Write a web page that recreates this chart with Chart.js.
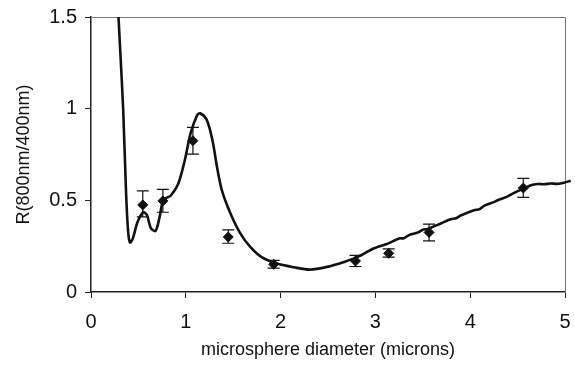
<!DOCTYPE html>
<html>
<head>
<meta charset="utf-8">
<script src="https://cdn.jsdelivr.net/npm/chart.js@4/dist/chart.umd.min.js"></script>
<style>
  html, body { margin: 0; padding: 0; background: #fff; }
  #wrap { width: 575px; height: 368px; }
</style>
</head>
<body>
<div id="wrap"><canvas id="myChart"></canvas></div>
<script>
// theory curve
let curveX = [0.29, 0.31, 0.34, 0.37, 0.39, 0.41, 0.44, 0.49, 0.55, 0.59, 0.63, 0.68, 0.72, 0.76, 0.80, 0.84,
  0.92, 0.99, 1.05, 1.12, 1.15, 1.22, 1.28, 1.33, 1.38, 1.47, 1.575, 1.68, 1.80, 1.96, 2.14, 2.31, 2.49,
  2.67, 2.81, 2.98, 3.13, 3.25, 3.30, 3.35, 3.45, 3.50, 3.55, 3.69, 3.80, 3.85, 3.90, 4.04, 4.10, 4.15,
  4.25, 4.30, 4.39, 4.48, 4.57, 4.64, 4.71, 4.78, 4.85, 4.92, 4.99, 5.06];
let curveY = [1.50, 1.30, 0.99, 0.54, 0.34, 0.27, 0.29, 0.38, 0.435, 0.42, 0.35, 0.333, 0.40, 0.50, 0.515, 0.525,
  0.59, 0.72, 0.865, 0.965, 0.975, 0.94, 0.83, 0.68, 0.556, 0.43, 0.32, 0.246, 0.19, 0.155, 0.135, 0.122, 0.137,
  0.164, 0.19, 0.237, 0.264, 0.292, 0.293, 0.309, 0.325, 0.340, 0.344, 0.374, 0.398, 0.402, 0.417, 0.446, 0.452, 0.471,
  0.490, 0.503, 0.520, 0.545, 0.565, 0.582, 0.589, 0.588, 0.592, 0.590, 0.596, 0.607];

// measured points with error bars
let pointX = [0.546, 0.758, 1.075, 1.448, 1.927, 2.79, 3.14, 3.566, 4.56];
let pointY = [0.475, 0.497, 0.825, 0.30, 0.151, 0.169, 0.211, 0.325, 0.567];
let errLow = [0.41, 0.435, 0.752, 0.266, 0.13, 0.139, 0.19, 0.279, 0.516];
let errHigh = [0.552, 0.56, 0.898, 0.339, 0.172, 0.20, 0.235, 0.37, 0.62];

let xTicks = [0, 1, 2, 3, 4, 5];
let yTicks = [0, 0.5, 1, 1.5];

let errorBars = {
  id: 'errorBars',
  afterDatasetsDraw(chart) {
    let ctx = chart.ctx;
    let xs = chart.scales.x, ys = chart.scales.y;
    ctx.save();
    ctx.strokeStyle = '#111';
    ctx.lineWidth = 1.2;
    for (let i = 0; i < pointX.length; i++) {
      let px = xs.getPixelForValue(pointX[i]);
      let lo = ys.getPixelForValue(errLow[i]);
      let hi = ys.getPixelForValue(errHigh[i]);
      ctx.beginPath();
      ctx.moveTo(px, lo); ctx.lineTo(px, hi);
      ctx.moveTo(px - 6, lo); ctx.lineTo(px + 6, lo);
      ctx.moveTo(px - 6, hi); ctx.lineTo(px + 6, hi);
      ctx.stroke();
    }
    ctx.restore();
  },
  beforeDatasetsDraw(chart) {
    // thin frame on top and right
    let a = chart.chartArea, ctx = chart.ctx;
    ctx.save();
    ctx.strokeStyle = '#777';
    ctx.lineWidth = 1;
    ctx.beginPath();
    ctx.moveTo(a.left, a.top + 0.5);
    ctx.lineTo(a.right + 0.5, a.top + 0.5);
    ctx.lineTo(a.right + 0.5, a.bottom);
    ctx.stroke();
    ctx.restore();
  }
};

let ctx = document.getElementById('myChart').getContext('2d');
let chart = new Chart(ctx, {
  type: 'scatter',
  data: {
    datasets: [{
      type: 'line',
      data: curveX.map((x, i) => ({ x: x, y: curveY[i] })),
      borderColor: '#111',
      borderWidth: 2.6,
      pointRadius: 0,
      tension: 0.3,
      fill: false,
      clip: false
    }, {
      data: pointX.map((x, i) => ({ x: x, y: pointY[i] })),
      backgroundColor: '#111',
      borderColor: '#111',
      pointStyle: 'rectRot',
      pointRadius: 5
    }]
  },
  options: {
    responsive: true,
    maintainAspectRatio: false,
    animation: false,
    layout: { padding: { top: 17, right: 10, left: 0, bottom: 0 } },
    plugins: { legend: { display: false }, tooltip: { enabled: false } },
    scales: {
      x: {
        type: 'linear',
        min: 0, max: 5,
        afterFit(scale) { scale.height = 76; scale.paddingRight = 0; scale.paddingLeft = 0; },
        afterBuildTicks(scale) { scale.ticks = xTicks.map(v => ({ value: v })); },
        ticks: { color: '#111', font: { family: 'Liberation Sans', size: 20 }, padding: 12, callback: v => String(v) },
        grid: { drawOnChartArea: false, drawTicks: true, tickLength: 6, color: '#222' },
        border: { display: true, color: '#222', width: 1.5 },
        title: { display: true, text: 'microsphere diameter (microns)', color: '#111',
          font: { family: 'Liberation Sans', size: 18 }, padding: { top: 0, bottom: 7 } }
      },
      y: {
        type: 'linear',
        min: 0, max: 1.5,
        afterFit(scale) { scale.width = 91; scale.paddingTop = 0; scale.paddingBottom = 0; },
        afterBuildTicks(scale) { scale.ticks = yTicks.map(v => ({ value: v })); },
        ticks: { color: '#111', font: { family: 'Liberation Sans', size: 20 }, padding: 8, callback: v => String(v) },
        grid: { drawOnChartArea: false, drawTicks: true, tickLength: 6, color: '#222' },
        border: { display: true, color: '#222', width: 1.5 },
        title: { display: true, text: 'R(800nm/400nm)', color: '#111',
          font: { family: 'Liberation Sans', size: 18 }, padding: { top: 13, bottom: 0 } }
      }
    }
  },
  plugins: [errorBars]
});
</script>
</body>
</html>
